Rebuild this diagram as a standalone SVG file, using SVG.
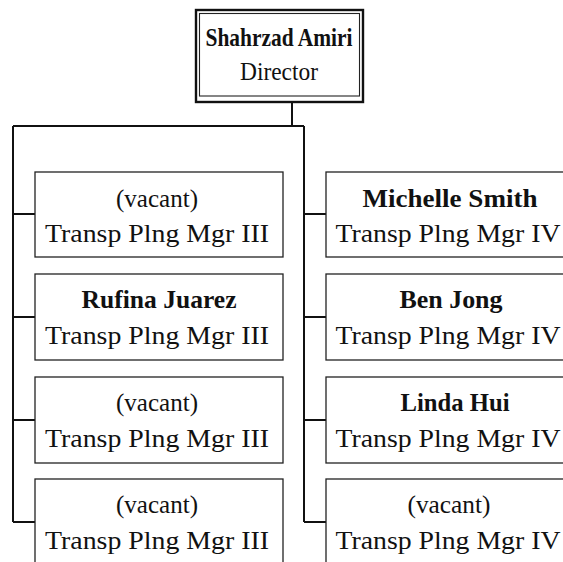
<svg xmlns="http://www.w3.org/2000/svg" width="563" height="562" viewBox="0 0 563 562">
<style>
  .box { fill: #fff; stroke: #222; stroke-width: 1.3; }
  .outer { fill: #fff; stroke: #111; stroke-width: 2.4; }
  .inner { fill: none; stroke: #222; stroke-width: 1.1; }
  .conn { fill: none; stroke: #111; stroke-width: 2; }
  text { font-family: "Liberation Serif", "DejaVu Serif", serif; font-size: 26px; fill: #111; text-anchor: middle; }
  .b { font-weight: bold; }
</style>
<rect width="563" height="562" fill="#fff"/>
<g id="connectors">
  <path class="conn" d="M292 102 V126 M13 126 H304 M13 126 V522 M304 126 V522"/>
  <path class="conn" d="M13 214 H35 M13 317 H35 M13 420 H35 M13 522 H35"/>
  <path class="conn" d="M304 214 H326 M304 317 H326 M304 420 H326 M304 522 H326"/>
</g>
<g id="director">
  <rect class="outer" x="196" y="10" width="167" height="92"/>
  <rect class="inner" x="199.5" y="13.5" width="160" height="82.5"/>
  <text class="b" x="279" y="46" textLength="147" lengthAdjust="spacingAndGlyphs">Shahrzad Amiri</text>
  <text x="279" y="80" textLength="78" lengthAdjust="spacingAndGlyphs">Director</text>
</g>
<g id="l1">
  <rect class="box" x="35" y="172" width="248" height="85"/>
  <text x="157" y="207" textLength="82" lengthAdjust="spacingAndGlyphs">(vacant)</text>
  <text x="157" y="242" textLength="224" lengthAdjust="spacingAndGlyphs">Transp Plng Mgr III</text>
</g>
<g id="l2">
  <rect class="box" x="35" y="274" width="248" height="86"/>
  <text class="b" x="159" y="308" textLength="155" lengthAdjust="spacingAndGlyphs">Rufina Juarez</text>
  <text x="157" y="344" textLength="224" lengthAdjust="spacingAndGlyphs">Transp Plng Mgr III</text>
</g>
<g id="l3">
  <rect class="box" x="35" y="377" width="248" height="86"/>
  <text x="157" y="411" textLength="82" lengthAdjust="spacingAndGlyphs">(vacant)</text>
  <text x="157" y="447" textLength="224" lengthAdjust="spacingAndGlyphs">Transp Plng Mgr III</text>
</g>
<g id="l4">
  <rect class="box" x="35" y="479" width="248" height="86"/>
  <text x="157" y="513" textLength="82" lengthAdjust="spacingAndGlyphs">(vacant)</text>
  <text x="157" y="549" textLength="224" lengthAdjust="spacingAndGlyphs">Transp Plng Mgr III</text>
</g>
<g id="r1">
  <rect class="box" x="326" y="172" width="248" height="85"/>
  <text class="b" x="450" y="207" textLength="175" lengthAdjust="spacingAndGlyphs">Michelle Smith</text>
  <text x="448" y="242" textLength="225" lengthAdjust="spacingAndGlyphs">Transp Plng Mgr IV</text>
</g>
<g id="r2">
  <rect class="box" x="326" y="274" width="248" height="86"/>
  <text class="b" x="451" y="308" textLength="103" lengthAdjust="spacingAndGlyphs">Ben Jong</text>
  <text x="448" y="344" textLength="225" lengthAdjust="spacingAndGlyphs">Transp Plng Mgr IV</text>
</g>
<g id="r3">
  <rect class="box" x="326" y="377" width="248" height="86"/>
  <text class="b" x="455" y="411" textLength="109" lengthAdjust="spacingAndGlyphs">Linda Hui</text>
  <text x="448" y="447" textLength="225" lengthAdjust="spacingAndGlyphs">Transp Plng Mgr IV</text>
</g>
<g id="r4">
  <rect class="box" x="326" y="479" width="248" height="86"/>
  <text x="449" y="513" textLength="83" lengthAdjust="spacingAndGlyphs">(vacant)</text>
  <text x="448" y="549" textLength="225" lengthAdjust="spacingAndGlyphs">Transp Plng Mgr IV</text>
</g>
</svg>
